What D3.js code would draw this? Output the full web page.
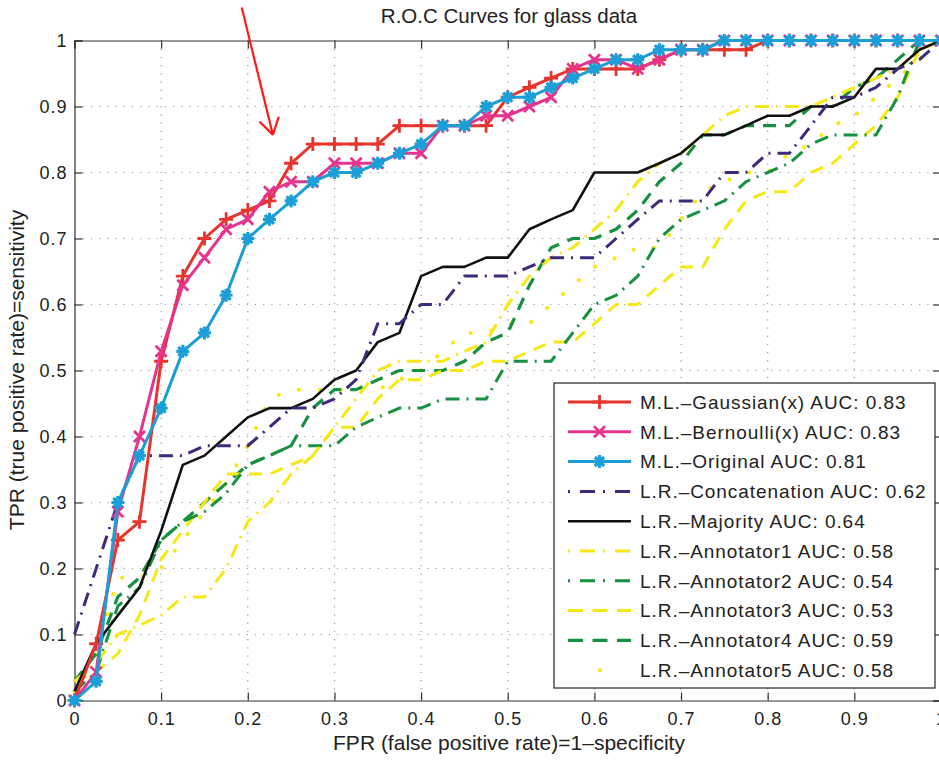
<!DOCTYPE html>
<html>
<head>
<meta charset="utf-8">
<script src="https://cdn.jsdelivr.net/npm/d3@7/dist/d3.min.js"></script>
<style>
  body { margin: 0; background: #fff; }
  text { font-family: "Liberation Sans", Arial, Helvetica, sans-serif; fill: #222; }
</style>
</head>
<body>
<div id="chart"></div>
<script>
// FPR steps shared by every curve
var fpr = [0, 0.025, 0.05, 0.075, 0.1, 0.125, 0.15, 0.175, 0.2, 0.225,
           0.25, 0.275, 0.3, 0.325, 0.35, 0.375, 0.4, 0.425, 0.45, 0.475,
           0.5, 0.525, 0.55, 0.575, 0.6, 0.625, 0.65, 0.675, 0.7, 0.725,
           0.75, 0.775, 0.8, 0.825, 0.85, 0.875, 0.9, 0.925, 0.95, 0.975, 1];

// TPR values, one per FPR step
var tprGaussian = [0, .086, .243, .271, .514, .643, .700, .729, .743, .757,
                   .814, .843, .843, .843, .843, .871, .871, .871, .871, .871,
                   .914, .929, .943, .957, .957, .957, .957, .971, .986, .986,
                   .986, .986, 1, 1, 1, 1, 1, 1, 1, 1, 1];
var tprBernoulli = [0, .043, .286, .400, .529, .629, .671, .714, .729, .771,
                    .786, .786, .814, .814, .814, .829, .829, .871, .871, .886,
                    .886, .900, .914, .957, .971, .971, .957, .971, .986, .986,
                    1, 1, 1, 1, 1, 1, 1, 1, 1, 1, 1];
var tprOriginal = [0, .029, .300, .371, .443, .529, .557, .614, .700, .729,
                   .757, .786, .800, .800, .814, .829, .843, .871, .871, .900,
                   .914, .914, .929, .943, .957, .971, .971, .986, .986, .986,
                   1, 1, 1, 1, 1, 1, 1, 1, 1, 1, 1];
var tprConcat = [.100, .200, .300, .371, .371, .371, .386, .386, .386, .414,
                 .443, .443, .457, .486, .571, .571, .600, .600, .643, .643,
                 .643, .657, .671, .671, .671, .700, .729, .757, .757, .757,
                 .800, .800, .829, .829, .871, .914, .914, .929, .957, .971, 1];
var tprMajority = [.014, .086, .129, .171, .257, .357, .371, .400, .429, .443,
                   .443, .457, .486, .500, .543, .557, .643, .657, .657, .671,
                   .671, .714, .729, .743, .800, .800, .800, .814, .829, .857,
                   .857, .871, .886, .886, .900, .900, .914, .957, .957, .986, 1];
var tprAnn1 = [.029, .057, .100, .114, .129, .157, .157, .200, .271, .300,
               .343, .371, .414, .457, .500, .514, .514, .514, .529, .543,
               .600, .643, .671, .686, .714, .743, .786, .814, .829, .857,
               .886, .900, .900, .900, .900, .914, .929, .943, .957, .986, 1];
var tprAnn2 = [.014, .043, .143, .171, .243, .271, .286, .314, .357, .371,
               .386, .386, .386, .414, .429, .443, .443, .457, .457, .457,
               .514, .514, .514, .557, .600, .614, .643, .700, .729, .743,
               .757, .786, .800, .814, .843, .857, .857, .857, .914, 1, 1];
var tprAnn3 = [.029, .043, .071, .129, .214, .257, .300, .343, .343, .343,
               .357, .371, .414, .414, .457, .486, .486, .500, .500, .514,
               .514, .529, .543, .543, .571, .600, .600, .629, .657, .657,
               .714, .757, .771, .771, .800, .814, .843, .871, .914, .986, 1];
var tprAnn4 = [.029, .071, .157, .186, .243, .271, .300, .329, .357, .371,
               .386, .443, .471, .471, .486, .500, .500, .500, .514, .543,
               .557, .629, .686, .700, .700, .714, .743, .786, .814, .857,
               .857, .871, .871, .871, .900, .900, .929, .943, .971, 1, 1];
var tprAnn5 = [.014, .071, .186, .186, .200, .243, .286, .329, .386, .457,
               .471, .471, .471, .471, .471, .486, .500, .529, .557, .557,
               .571, .571, .600, .629, .657, .671, .686, .686, .729, .771,
               .786, .800, .800, .829, .843, .871, .886, .914, .943, .971, 1];

// Legend labels in plot order
var legendLabels = ["M.L.–Gaussian(x) AUC: 0.83", "M.L.–Bernoulli(x) AUC: 0.83",
                    "M.L.–Original AUC: 0.81", "L.R.–Concatenation AUC: 0.62",
                    "L.R.–Majority AUC: 0.64", "L.R.–Annotator1 AUC: 0.58",
                    "L.R.–Annotator2 AUC: 0.54", "L.R.–Annotator3 AUC: 0.53",
                    "L.R.–Annotator4 AUC: 0.59", "L.R.–Annotator5 AUC: 0.58"];

// Tick values
var xTicks = [0, 0.1, 0.2, 0.3, 0.4, 0.5, 0.6, 0.7, 0.8, 0.9, 1];
var yTicks = [0, 0.1, 0.2, 0.3, 0.4, 0.5, 0.6, 0.7, 0.8, 0.9, 1];

// Red arrow drawn over the figure (data coords)
var arrowStart = [0.193, 1.05];
var arrowTip = [0.229, 0.857];

// Define svg dimensions
var svgWidth = 939;
var svgHeight = 761;

// Plot box in pixels
var plot = { left: 74.5, right: 941, top: 40.5, bottom: 700.5 };

var svg = d3.select("#chart")
  .append("svg")
  .attr("width", svgWidth)
  .attr("height", svgHeight);

var xScale = d3.scaleLinear().domain([0, 1]).range([plot.left, plot.right]);
var yScale = d3.scaleLinear().domain([0, 1]).range([plot.bottom, plot.top]);

// Series styles
var series = [
  { tpr: tprGaussian,  color: "#e5352c", dash: null,        width: 3,   marker: "plus" },
  { tpr: tprBernoulli, color: "#e6338d", dash: null,        width: 3,   marker: "cross" },
  { tpr: tprOriginal,  color: "#1b9fd6", dash: null,        width: 3,   marker: "star" },
  { tpr: tprConcat,    color: "#3d2a7a", dash: "14,7,2,7",  width: 3,   marker: null },
  { tpr: tprMajority,  color: "#111111", dash: null,        width: 2.6, marker: null },
  { tpr: tprAnn1,      color: "#f6e814", dash: "14,7,2,7",  width: 3,   marker: null },
  { tpr: tprAnn2,      color: "#17913f", dash: "14,7,2,7",  width: 3,   marker: null },
  { tpr: tprAnn3,      color: "#f6e814", dash: "13,9",      width: 3,   marker: null },
  { tpr: tprAnn4,      color: "#17913f", dash: "13,9",      width: 3.2, marker: null },
  { tpr: tprAnn5,      color: "#f6e814", dash: "0.1,21",    width: 4,   marker: null, round: true }
];
series.forEach((s, i) => { s.label = legendLabels[i]; });

var markerPaths = {
  plus: "M-7,0H7M0,-7V7",
  cross: "M-5.5,-5.5L5.5,5.5M-5.5,5.5L5.5,-5.5",
  star: "M-6.5,0H6.5M0,-6.5V6.5M-4.6,-4.6L4.6,4.6M-4.6,4.6L4.6,-4.6"
};

// Grid lines (dotted)
var grid = svg.append("g").classed("grid", true);
grid.selectAll(".gx")
  .data(xTicks.slice(1, -1))
  .enter()
  .append("line")
  .attr("x1", d => xScale(d)).attr("x2", d => xScale(d))
  .attr("y1", plot.top).attr("y2", plot.bottom)
  .attr("stroke", "#9a9a9a").attr("stroke-width", 1.2)
  .attr("stroke-dasharray", "1.2,7");
grid.selectAll(".gy")
  .data(yTicks.slice(1, -1))
  .enter()
  .append("line")
  .attr("y1", d => yScale(d)).attr("y2", d => yScale(d))
  .attr("x1", plot.left).attr("x2", plot.right)
  .attr("stroke", "#9a9a9a").attr("stroke-width", 1.2)
  .attr("stroke-dasharray", "1.2,7");

// Axes: bottom/left with labels, top/right as plain box with inward ticks
var bottomAxis = d3.axisBottom(xScale).tickValues(xTicks).tickSize(-8).tickPadding(12)
  .tickFormat(d3.format("~g"));
var leftAxis = d3.axisLeft(yScale).tickValues(yTicks).tickSize(-8).tickPadding(7)
  .tickFormat(d3.format("~g"));
var topAxis = d3.axisTop(xScale).tickValues(xTicks).tickSize(-8).tickFormat("");
var rightAxis = d3.axisRight(yScale).tickValues(yTicks).tickSize(-8).tickFormat("");

function styleAxis(g) {
  g.select(".domain").attr("stroke", "#333").attr("stroke-width", 1.2);
  g.selectAll(".tick line").attr("stroke", "#333").attr("stroke-width", 1.2);
  g.selectAll(".tick text")
    .attr("font-size", "18px")
    .attr("letter-spacing", "1px")
    .attr("font-family", "Liberation Sans, Arial, sans-serif")
    .attr("fill", "#222");
}

svg.append("g").attr("transform", `translate(0, ${plot.bottom})`).call(bottomAxis).call(styleAxis);
svg.append("g").attr("transform", `translate(${plot.left}, 0)`).call(leftAxis).call(styleAxis);
svg.append("g").attr("transform", `translate(0, ${plot.top})`).call(topAxis).call(styleAxis);
svg.append("g").attr("transform", `translate(${plot.right}, 0)`).call(rightAxis).call(styleAxis);

// Curves: annotator / LR curves underneath, ML curves on top
var line = d3.line()
  .x(d => xScale(d[0]))
  .y(d => yScale(d[1]));

var drawOrder = [9, 8, 7, 6, 5, 4, 3, 0, 1, 2];
var curves = svg.append("g").classed("curves", true);

drawOrder.forEach(function(i) {
  var s = series[i];
  var pts = d3.zip(fpr, s.tpr);
  curves.append("path")
    .datum(pts)
    .attr("d", line)
    .attr("fill", "none")
    .attr("stroke", s.color)
    .attr("stroke-width", s.width)
    .attr("stroke-linejoin", "round")
    .attr("stroke-linecap", s.round ? "round" : "butt")
    .attr("stroke-dasharray", s.dash);

  if (s.marker) {
    curves.append("g")
      .selectAll("path")
      .data(pts)
      .enter()
      .append("path")
      .attr("transform", d => `translate(${xScale(d[0])}, ${yScale(d[1])})`)
      .attr("d", markerPaths[s.marker])
      .attr("fill", "none")
      .attr("stroke", s.color)
      .attr("stroke-width", s.marker === "star" ? 3.2 : 2.8);
  }
});

// Legend
var legendBox = { x: 554, y: 383, w: 381, h: 305, rowStart: 402, rowGap: 29.8 };
var legend = svg.append("g").classed("legend", true);
legend.append("rect")
  .attr("x", legendBox.x).attr("y", legendBox.y)
  .attr("width", legendBox.w).attr("height", legendBox.h)
  .attr("fill", "#fff").attr("stroke", "#222").attr("stroke-width", 1.2);

series.forEach(function(s, i) {
  var ly = legendBox.rowStart + i * legendBox.rowGap;
  if (s.round) {
    legend.append("circle")
      .attr("cx", 600).attr("cy", ly).attr("r", 2)
      .attr("fill", s.color);
  } else {
    legend.append("line")
      .attr("x1", 568).attr("x2", 631)
      .attr("y1", ly).attr("y2", ly)
      .attr("stroke", s.color)
      .attr("stroke-width", s.width)
      .attr("stroke-dasharray", s.dash ? (s.dash === "13,9" ? "15,9.5" : "2,10,15,8") : null);
  }
  if (s.marker) {
    legend.append("path")
      .attr("transform", `translate(599.5, ${ly})`)
      .attr("d", markerPaths[s.marker])
      .attr("fill", "none")
      .attr("stroke", s.color)
      .attr("stroke-width", s.marker === "star" ? 3.2 : 2.8);
  }
  legend.append("text")
    .attr("x", 640)
    .attr("y", ly)
    .attr("dy", "0.36em")
    .attr("font-size", "19px")
    .attr("letter-spacing", "0.95px")
    .text(s.label);
});

// Title and axis labels
svg.append("text")
  .attr("x", 509).attr("y", 23)
  .attr("text-anchor", "middle")
  .attr("font-size", "20.5px")
  .text("R.O.C Curves for glass data");

svg.append("text")
  .attr("x", 509).attr("y", 750)
  .attr("text-anchor", "middle")
  .attr("font-size", "21px")
  .text("FPR (false positive rate)=1–specificity");

svg.append("text")
  .attr("transform", "translate(24, 370) rotate(-90)")
  .attr("text-anchor", "middle")
  .attr("font-size", "21px")
  .text("TPR (true positive rate)=sensitivity");

// Red arrow annotation
var arrow = svg.append("g").classed("arrow", true)
  .attr("stroke", "#ff1a1a").attr("stroke-width", 2.2).attr("fill", "none");
var ax0 = xScale(arrowStart[0]), ay0 = yScale(arrowStart[1]);
var ax1 = xScale(arrowTip[0]), ay1 = yScale(arrowTip[1]);
var ang = Math.atan2(ay1 - ay0, ax1 - ax0);
arrow.append("line").attr("x1", ax0).attr("y1", ay0).attr("x2", ax1).attr("y2", ay1);
[0.55, -0.55].forEach(function(da) {
  arrow.append("line")
    .attr("x1", ax1).attr("y1", ay1)
    .attr("x2", ax1 - 19 * Math.cos(ang + da))
    .attr("y2", ay1 - 19 * Math.sin(ang + da));
});
</script>
</body>
</html>
